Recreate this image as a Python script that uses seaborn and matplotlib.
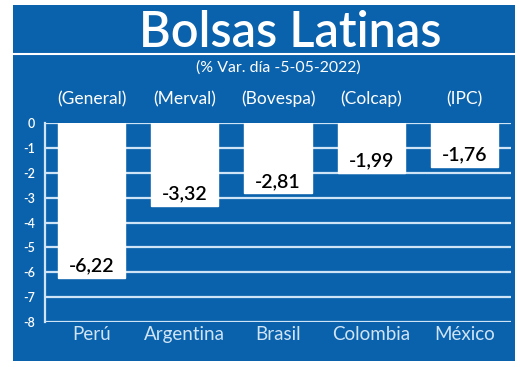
import matplotlib.pyplot as plt
from matplotlib.patches import Rectangle
import matplotlib.transforms as mtransforms
import seaborn as sns
import pandas as pd

# --- data ---
paises = ["Perú", "Argentina", "Brasil", "Colombia", "México"]
indices = ["(General)", "(Merval)", "(Bovespa)", "(Colcap)", "(IPC)"]
variacion = [-6.22, -3.32, -2.81, -1.99, -1.76]
yticks = [0, -1, -2, -3, -4, -5, -6, -7, -8]

azul = "#0b62ac"
celeste = "#cfe4f6"
font = "Lato"

df = pd.DataFrame({"pais": paises, "var": variacion})

sns.set_style("white")
plt.rcParams["font.family"] = [font, "DejaVu Sans"]

fig = plt.figure(figsize=(5.2, 3.67), dpi=100)
W, H = 520, 367

# blue panel (behind everything)
fig.patches.append(Rectangle((13 / W, 1 - 361 / H), 502 / W, 356 / H,
                             transform=fig.transFigure, facecolor=azul,
                             edgecolor="none", zorder=-5))
# white line under the title
fig.add_artist(plt.Line2D([13 / W, 515 / W], [1 - 54 / H, 1 - 54 / H],
                          transform=fig.transFigure, color="white", lw=1.5))

fig.text(290 / W, 1 - 33 / H, "Bolsas Latinas", color="white", fontsize=35,
         fontweight="semibold", ha="center", va="center")
fig.text(278 / W, 1 - 68 / H, "(% Var. día -5-05-2022)", color="white",
         fontsize=11.4, ha="center", va="center")

ax = fig.add_axes([45 / W, 1 - 322 / H, 466 / W, 199 / H])
ax.set_facecolor("none")

sns.barplot(data=df, x="pais", y="var", color="white", saturation=1,
            width=0.72, ax=ax, zorder=3)

ax.set_ylim(-8, 0)
ax.set_yticks(yticks)
ax.set_yticklabels([str(t) for t in yticks], color="white", fontsize=9,
                   fontweight="semibold")
ax.tick_params(axis="y", length=0, pad=7)
ax.tick_params(axis="x", length=0, pad=3, labelsize=13.5, labelcolor=celeste)
ax.set_xlabel("")
ax.set_ylabel("")

for t in yticks:
    ax.axhline(t, color=celeste, lw=1.6, zorder=1)

for s in ["top", "right", "bottom"]:
    ax.spines[s].set_visible(False)
ax.spines["left"].set_color(celeste)
ax.spines["left"].set_linewidth(1.6)

# value labels inside bars
for i, v in enumerate(variacion):
    ax.text(i, v + 0.12, f"{v:.2f}".replace(".", ","), ha="center",
            va="bottom", fontsize=14, fontweight="semibold", color="black",
            zorder=4)

# index names above the plot
trans = mtransforms.blended_transform_factory(ax.transData, fig.transFigure)
for i, nombre in enumerate(indices):
    ax.text(i, 1 - 99 / H, nombre, transform=trans, ha="center", va="center",
            color="white", fontsize=12.5)

fig.savefig("out.png", dpi=100, facecolor="white")
